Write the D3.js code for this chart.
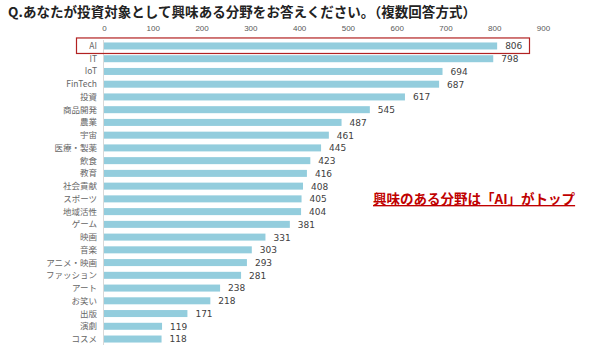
<!DOCTYPE html>
<html><head><meta charset="utf-8">
<script src="https://cdn.jsdelivr.net/npm/d3@7"></script>
<style>
body{margin:0;background:#fff;}
svg{display:block;font-family:"Noto Sans CJK JP","Noto Sans",sans-serif;}
</style></head>
<body><svg id="c" width="592" height="357"></svg>
<script>
const categories = ["AI","IT","IoT","FinTech","投資","商品開発","農業","宇宙","医療・製薬","飲食","教育","社会貢献","スポーツ","地域活性","ゲーム","映画","音楽","アニメ・映画","ファッション","アート","お笑い","出版","演劇","コスメ"];
const values = [806,798,694,687,617,545,487,461,445,423,416,408,405,404,381,331,303,293,281,238,218,171,119,118];
const ticks = [0,100,200,300,400,500,600,700,800,900];
const title = "Q.あなたが投資対象として興味ある分野をお答えください。（複数回答方式）";
const note = "興味のある分野は「AI」がトップ";

const svg = d3.select("#c");
const x = d3.scaleLinear().domain([0,900]).range([104,543]);
const y = d3.scaleBand().domain(categories).range([39.6,345.4]).paddingInner(0.45).paddingOuter(0.225);

svg.append("text").attr("x",8).attr("y",17).attr("font-size",13.5).attr("font-weight","bold")
  .attr("fill","#222").attr("textLength",468).attr("lengthAdjust","spacing").text(title);

// top axis
const ax = svg.append("g").attr("transform","translate(0,33)")
  .call(d3.axisTop(x).tickValues(ticks).tickSize(0).tickPadding(2));
ax.select(".domain").remove();
ax.selectAll("text").attr("font-size",8).attr("fill","#595959").attr("font-family","Liberation Sans,Arial,sans-serif");

// vertical axis line
svg.append("line").attr("x1",x(0)-0.5).attr("x2",x(0)-0.5).attr("y1",40).attr("y2",345)
  .attr("stroke","#d9d9d9").attr("stroke-width",1);

// bars
svg.selectAll("rect.bar").data(values).join("rect").attr("class","bar")
  .attr("x",x(0)).attr("y",(d,i)=>y(categories[i])).attr("width",d=>x(d)-x(0))
  .attr("height",y.bandwidth()).attr("fill","#93cddd");

// category labels
svg.selectAll("text.cat").data(categories).join("text").attr("class","cat")
  .attr("x",97).attr("y",d=>y(d)+y.bandwidth()/2).attr("dy","0.35em")
  .attr("text-anchor","end").attr("font-size",8.5).attr("fill","#666").text(d=>d);

// value labels
svg.selectAll("text.val").data(values).join("text").attr("class","val")
  .attr("x",d=>x(d)+8).attr("y",(d,i)=>y(categories[i])+y.bandwidth()/2).attr("dy","0.38em")
  .attr("font-size",9).attr("fill","#404040").attr("font-family","DejaVu Sans,sans-serif").text(d=>d);

// highlight box around AI
svg.append("rect").attr("x",76.5).attr("y",y("AI")-4.5).attr("width",453).attr("height",y.bandwidth()+8.5)
  .attr("fill","none").attr("stroke","#b22222").attr("stroke-width",1.2);

// annotation
svg.append("text").attr("x",373).attr("y",204).attr("font-size",13.5).attr("font-weight","bold")
  .attr("fill","#c00000").attr("text-decoration","underline").text(note);
</script></body></html>
